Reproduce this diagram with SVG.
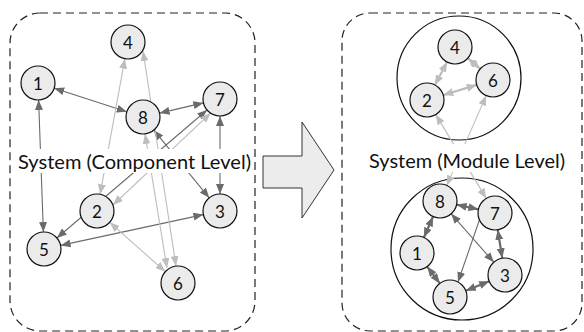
<svg xmlns="http://www.w3.org/2000/svg" width="584" height="332" viewBox="0 0 584 332">
  <style>
    .panel { fill: none; stroke: #222; stroke-width: 1.2; stroke-dasharray: 8 5; }
    .node circle { fill: #ebebeb; stroke: #111; stroke-width: 1.2; }
    .node text { font-family: "Lato", "Liberation Sans", sans-serif; font-size: 17px; fill: #111; text-anchor: middle; dominant-baseline: central; }
    .module { fill: none; stroke: #111; stroke-width: 1.2; }
    .dark { stroke: #6b6b6b; stroke-width: 1.1; fill: none; marker-start: url(#ad); marker-end: url(#ad); }
    .light { stroke: #bdbdbd; stroke-width: 1.1; fill: none; marker-start: url(#al); marker-end: url(#al); }
    .dark.short { stroke-width: 2.2; }
    .light.short { stroke-width: 2.2; }
    .label { font-family: "Lato", "Liberation Sans", sans-serif; font-size: 20px; fill: #111; text-anchor: middle; }
    .mask { fill: #fff; }
  </style>
  <defs>
    <marker id="ad" viewBox="0 0 10 8" markerWidth="10" markerHeight="8" refX="10" refY="4" orient="auto-start-reverse" markerUnits="userSpaceOnUse">
      <path d="M0,0 L10,4 L0,8 z" fill="#6b6b6b"/>
    </marker>
    <marker id="al" viewBox="0 0 10 8" markerWidth="10" markerHeight="8" refX="10" refY="4" orient="auto-start-reverse" markerUnits="userSpaceOnUse">
      <path d="M0,0 L10,4 L0,8 z" fill="#bdbdbd"/>
    </marker>
  </defs>

  <!-- panels -->
  <rect class="panel" x="10" y="13" width="245" height="318" rx="30" ry="30"/>
  <rect class="panel" x="342" y="13" width="240" height="318" rx="28" ry="28"/>

  <!-- transformation arrow -->
  <path d="M263,156 H302 V122 L334,170 L302,218 V188 H263 Z" fill="#ececec" stroke="#333" stroke-width="1"/>

  <!-- module boundaries -->
  <circle class="module" cx="459" cy="78" r="62"/>
  <circle class="module" cx="462" cy="249" r="71"/>

  <g id="connectors">
    <!-- component level -->
    <line class="dark" x1="54.2" y1="88.2" x2="126.8" y2="111.8"/>
    <line class="dark" x1="159.6" y1="113.1" x2="203.4" y2="102.9"/>
    <line class="dark" x1="38.6" y1="100" x2="43.4" y2="232"/>
    <line class="dark" x1="220" y1="116" x2="220" y2="194"/>
    <line class="dark" x1="60.6" y1="245.4" x2="203.4" y2="214.6"/>
    <line class="dark" x1="56.9" y1="238" x2="207.1" y2="110"/>
    <line class="dark" x1="153.8" y1="130.2" x2="209.2" y2="197.8"/>
    <line class="light" x1="100.1" y1="194.3" x2="124.9" y2="58.7"/>
    <line class="light" x1="143" y1="51" x2="176" y2="266"/>
    <line class="light" x1="145" y1="134" x2="167" y2="268"/>
    <line class="light" x1="109.7" y1="222.3" x2="165.3" y2="271.7"/>
    <line class="light" x1="113" y1="205" x2="210.6" y2="113.1"/>
    <!-- module level -->
    <line class="light short" x1="447.1" y1="62" x2="434.9" y2="85"/>
    <line class="light short" x1="467.8" y1="58.2" x2="480.2" y2="68.8"/>
    <line class="light short" x1="443.3" y1="95.1" x2="476.7" y2="84.9"/>
    <line class="light" x1="435.8" y1="114.6" x2="486.2" y2="198.4"/>
    <line class="light" x1="486.2" y1="95.6" x2="446.8" y2="185.4"/>
    <line class="dark short" x1="456.6" y1="204.6" x2="478.4" y2="209.4"/>
    <line class="dark short" x1="433.1" y1="216.5" x2="423.9" y2="237.5"/>
    <line class="dark short" x1="427.2" y1="266.6" x2="439.8" y2="283.4"/>
    <line class="dark short" x1="465.8" y1="290.7" x2="489.2" y2="281.3"/>
    <line class="dark short" x1="502.3" y1="258.2" x2="497.7" y2="229.8"/>
    <line class="dark" x1="451.2" y1="213.8" x2="493.8" y2="262.2"/>
    <line class="dark" x1="458" y1="282" x2="487" y2="198"/>
  </g>

  <!-- labels -->
  <rect class="mask" x="16" y="149" width="236" height="24"/>
  <text class="label" x="134.5" y="169" textLength="233" lengthAdjust="spacingAndGlyphs">System (Component Level)</text>
  <rect class="mask" x="364" y="144" width="206" height="28"/>
  <text class="label" x="467" y="168" textLength="196" lengthAdjust="spacingAndGlyphs">System (Module Level)</text>

  <!-- component level nodes -->
  <g id="c1" class="node"><circle cx="38" cy="83" r="17"/><text x="38" y="83">1</text></g>
  <g id="c2" class="node"><circle cx="97" cy="211" r="17"/><text x="97" y="211">2</text></g>
  <g id="c3" class="node"><circle cx="220" cy="211" r="17"/><text x="220" y="211">3</text></g>
  <g id="c4" class="node"><circle cx="128" cy="42" r="17"/><text x="128" y="42">4</text></g>
  <g id="c5" class="node"><circle cx="44" cy="249" r="17"/><text x="44" y="249">5</text></g>
  <g id="c6" class="node"><circle cx="178" cy="283" r="17"/><text x="178" y="283">6</text></g>
  <g id="c7" class="node"><circle cx="220" cy="99" r="17"/><text x="220" y="99">7</text></g>
  <g id="c8" class="node"><circle cx="143" cy="117" r="17"/><text x="143" y="117">8</text></g>

  <!-- module level nodes -->
  <g id="m4" class="node"><circle cx="455" cy="47" r="17"/><text x="455" y="47">4</text></g>
  <g id="m6" class="node"><circle cx="493" cy="80" r="17"/><text x="493" y="80">6</text></g>
  <g id="m2" class="node"><circle cx="427" cy="100" r="17"/><text x="427" y="100">2</text></g>
  <g id="m8" class="node"><circle cx="440" cy="201" r="17"/><text x="440" y="201">8</text></g>
  <g id="m7" class="node"><circle cx="495" cy="213" r="17"/><text x="495" y="213">7</text></g>
  <g id="m1" class="node"><circle cx="417" cy="253" r="17"/><text x="417" y="253">1</text></g>
  <g id="m3" class="node"><circle cx="505" cy="275" r="17"/><text x="505" y="275">3</text></g>
  <g id="m5" class="node"><circle cx="450" cy="297" r="17"/><text x="450" y="297">5</text></g>
</svg>
